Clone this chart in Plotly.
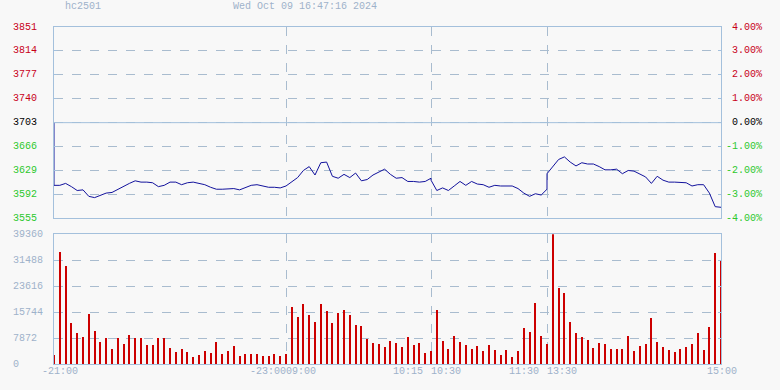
import plotly.graph_objects as go

# ---------------- data ----------------
SYMBOL = "hc2501"
TIMESTAMP = "Wed Oct 09 16:47:16 2024"
PREV_SETTLE = 3703

# trading sessions: (start, end, offset in session-minutes)
SESSIONS = [("21:00", "23:00", 0), ("09:00", "10:15", 120),
            ("10:30", "11:30", 195), ("13:30", "15:00", 255)]

# price, sampled every 3 minutes in each session (session start..end inclusive)
price_night = [3606, 3606, 3609, 3604, 3598, 3599, 3589, 3587, 3590, 3594,
               3595, 3600, 3605, 3609, 3613, 3611, 3611, 3610, 3604, 3606,
               3611, 3611, 3607, 3610, 3611, 3609, 3607, 3603, 3600, 3600,
               3600, 3601, 3599, 3603, 3606, 3607, 3605, 3603, 3603, 3602,
               3605]
price_am1 = [3605, 3612, 3618, 3629, 3635, 3622, 3641, 3642, 3620, 3617,
             3623, 3618, 3625, 3613, 3615, 3622, 3627, 3631, 3623, 3617,
             3618, 3612, 3612, 3611, 3612, 3617]
price_am2 = [3614, 3598, 3602, 3598, 3605, 3612, 3606, 3612, 3608, 3607,
             3603, 3606, 3605, 3605, 3605, 3601, 3594, 3589, 3593, 3591,
             3600]
price_pm = [3624, 3635, 3646, 3650, 3642, 3636, 3641, 3639, 3639, 3635,
            3630, 3630, 3631, 3624, 3629, 3628, 3624, 3619, 3609, 3620,
            3614, 3611, 3611, 3610, 3610, 3605, 3607, 3607, 3594, 3573,
            3572]

# volume per 3-minute bar (night incl. 21:00; other sessions start 3 min after open)
vol_night = [2700, 34000, 29800, 12500, 9200, 8200, 15200, 10000, 6500, 7900,
             4500, 7900, 6100, 8800, 7900, 7700, 5800, 5800, 7900, 7700,
             4800, 3600, 4400, 3600, 2100, 2700, 3900, 3300, 6700, 3000,
             3900, 5500, 2400, 3000, 3000, 3000, 2400, 2400, 3000, 2400,
             3000]
vol_am1 = [17300, 14200, 18200, 14800, 12800, 18200, 16000, 12400, 15400, 16300,
           14800, 11800, 11500, 7600, 6400, 6100, 5200, 7000, 6400, 5200,
           8200, 5800, 6400, 3300, 3900]
vol_am2 = [16300, 7000, 4500, 8500, 6700, 5800, 4500, 5500, 3900, 5800,
           4200, 2700, 4200, 2000, 3900, 10900, 9700, 18500, 8500, 6100]
vol_pm = [39300, 23000, 21500, 12700, 9400, 8200, 7300, 4800, 6400, 6100,
          4500, 4500, 4500, 8500, 3900, 5500, 6100, 13900, 6700, 5200,
          4200, 3600, 4500, 5200, 6100, 9400, 4200, 11200, 33600, 31500]

PRICE_TICKS = [3851, 3814, 3777, 3740, 3703, 3666, 3629, 3592, 3555]
PCT_LABELS = ["4.00%", "3.00%", "2.00%", "1.00%", "0.00%",
              "-1.00%", "-2.00%", "-3.00%", "-4.00%"]
VOL_TICKS = [39360, 31488, 23616, 15744, 7872, 0]
SESSION_BREAKS = ["09:00", "10:30", "13:30"]  # session index 1,2,3 starts
X_LABELS = [("-21:00", 0, "21:00"), ("-23:00", 0, "23:00"), ("09:00", 1, "09:00"),
            ("10:15", 1, "10:15"), ("10:30", 2, "10:30"), ("11:30", 2, "11:30"),
            ("13:30", 3, "13:30"), ("15:00", 3, "15:00")]


# ---------------- helpers ----------------
def to_min(s):
    h, m = map(int, s.split(":"))
    return h * 60 + m


def session_times(k, skip_first=False, step=3):
    start, end, _ = SESSIONS[k]
    a, b = to_min(start), to_min(end)
    t = a + (step if skip_first else 0)
    out = []
    while t <= b:
        out.append(f"{t // 60:02d}:{t % 60:02d}")
        t += step
    return out


def idx(hhmm, k):
    start, _, off = SESSIONS[k]
    return off + to_min(hhmm) - to_min(start)


price_sets = [price_night, price_am1, price_am2, price_pm]
vol_sets = [vol_night, vol_am1, vol_am2, vol_pm]

px_, py_ = [0], [PREV_SETTLE]
for k, vals in enumerate(price_sets):
    for t, v in zip(session_times(k), vals):
        px_.append(idx(t, k))
        py_.append(v)

vx_, vy_ = [], []
for k, vals in enumerate(vol_sets):
    for t, v in zip(session_times(k, skip_first=(k > 0)), vals):
        vx_.append(idx(t, k))
        vy_.append(v)

TOTAL = idx(SESSIONS[-1][1], 3)
breaks = [idx(t, k + 1) for k, t in enumerate(SESSION_BREAKS)]

# ---------------- style ----------------
BG = "#f8f8f8"
BORDER = "#a4c0dc"
GRID = "#a9bccf"
TXT = "#9eb2ca"
RED = "#c80018"
GREEN = "#2ec82e"
FONT = "Liberation Mono"
LINE = "#12129c"
BAR = "#cc0000"

W, H = 780, 390
L, R, T, B = 54, 59, 27, 26
PH = H - T - B
price_dom = [(364 - 218.3) / PH, 1]
vol_dom = [0, (364 - 234.3) / PH]

fig = go.Figure()
fig.add_trace(go.Scatter(x=px_, y=py_, mode="lines",
                         line=dict(color=LINE, width=1), xaxis="x", yaxis="y",
                         hoverinfo="skip"))
fig.add_trace(go.Bar(x=vx_, y=vy_, width=0.5, marker=dict(color=BAR, line=dict(width=0)),
                     xaxis="x2", yaxis="y2", hoverinfo="skip"))

xcommon = dict(range=[0, TOTAL], tickvals=breaks, showticklabels=False,
               showgrid=True, gridcolor=GRID, griddash="dash", gridwidth=1,
               showline=True, mirror=True, linecolor=BORDER, linewidth=1,
               zeroline=False, ticks="")
ycommon = dict(showticklabels=False, showgrid=True, gridcolor=GRID, griddash="dash",
               gridwidth=1, showline=True, mirror="ticks", linecolor=BORDER, linewidth=1,
               zeroline=False, ticks="inside", ticklen=3, tickcolor=BORDER)

fig.update_layout(
    width=W, height=H, margin=dict(l=L, r=R, t=T, b=B, pad=0),
    paper_bgcolor=BG, plot_bgcolor=BG, showlegend=False, bargap=0,
    font=dict(family=FONT, size=10, color=TXT),
    xaxis=dict(anchor="y", domain=[0, 1], **xcommon),
    xaxis2=dict(anchor="y2", domain=[0, 1], matches="x", **xcommon),
    yaxis=dict(domain=price_dom, range=[PRICE_TICKS[-1], PRICE_TICKS[0]],
               tickvals=PRICE_TICKS, anchor="x", **ycommon),
    yaxis2=dict(domain=vol_dom, range=[0, VOL_TICKS[0]], tickvals=VOL_TICKS,
                anchor="x2", **ycommon),
)

# solid reference line at previous settlement
fig.add_shape(type="line", xref="x domain", x0=0, x1=1, yref="y",
              y0=PREV_SETTLE, y1=PREV_SETTLE, line=dict(color=BORDER, width=1))

ann = []
for p, pct in zip(PRICE_TICKS, PCT_LABELS):
    col = RED if p > PREV_SETTLE else (GREEN if p < PREV_SETTLE else "#000000")
    ann.append(dict(x=(12 - L) / (W - L - R), xref="paper", xanchor="left",
                    y=p, yref="y", yanchor="middle", text=str(p), showarrow=False,
                    font=dict(color=col), borderpad=0))
    ann.append(dict(x=(763 - L) / (W - L - R), xref="paper", xanchor="right",
                    y=p, yref="y", yanchor="middle", text=pct, showarrow=False,
                    font=dict(color=col), borderpad=0))
for v in VOL_TICKS:
    ann.append(dict(x=(12 - L) / (W - L - R), xref="paper", xanchor="left",
                    y=v, yref="y2", yanchor="middle", text=str(v), showarrow=False,
                    font=dict(color=TXT), borderpad=0))

anchors = {"-21:00": ("center", 6), "-23:00": ("right", 1), "09:00": ("left", -1),
           "10:15": ("right", -7), "10:30": ("left", -1), "11:30": ("right", -7),
           "13:30": ("left", -1), "15:00": ("center", 1)}
for text, k, t in X_LABELS:
    xa, sh = anchors[text]
    ann.append(dict(x=idx(t, k), xref="x2", xanchor=xa, xshift=sh,
                    y=0, yref="paper", yanchor="top", yshift=-1,
                    text=text, showarrow=False, font=dict(color=TXT), borderpad=0))

ann.append(dict(x=(83 - L) / (W - L - R), xref="paper", xanchor="center",
                y=1 + (T - 7) / PH, yref="paper", yanchor="middle",
                text=SYMBOL, showarrow=False, font=dict(color=TXT), borderpad=0))
ann.append(dict(x=(305 - L) / (W - L - R), xref="paper", xanchor="center",
                y=1 + (T - 7) / PH, yref="paper", yanchor="middle",
                text=TIMESTAMP, showarrow=False, font=dict(color=TXT), borderpad=0))
fig.update_layout(annotations=ann)

fig.write_html("out.html")
